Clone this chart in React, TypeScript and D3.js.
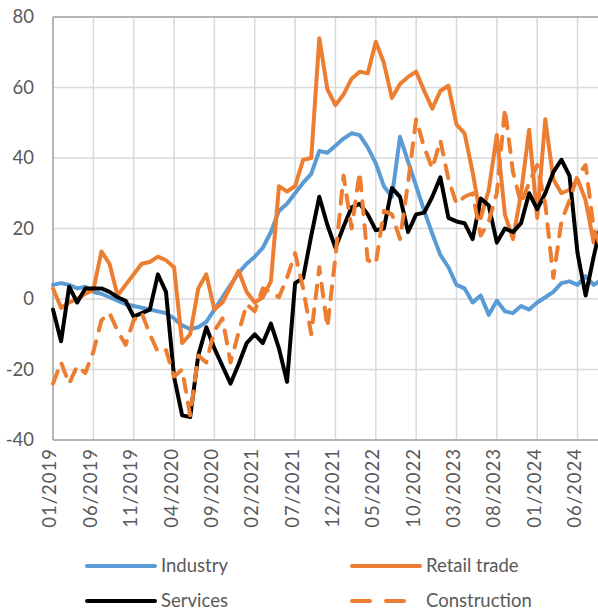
import React from 'react'
import * as d3 from 'd3'

// monthly categories 01/2019 .. 09/2024
const months = d3.timeMonths(new Date(2019, 0, 1), new Date(2024, 9, 1)).map(d3.timeFormat('%m/%Y'))

const tickLabels = ['01/2019', '06/2019', '11/2019', '04/2020', '09/2020', '02/2021', '07/2021',
  '12/2021', '05/2022', '10/2022', '03/2023', '08/2023', '01/2024', '06/2024']
const yTicks = [-40, -20, 0, 20, 40, 60, 80]

const industry = [4, 4.5, 4, 3, 3.5, 2, 1.5, 0.5, -0.5, -1.5, -2, -2.5, -3, -3.5, -4, -5.5, -7.5, -8.5, -8, -6.5,
  -3, 0.5, 4, 7.4, 10, 12, 14.5, 19, 25, 27, 30, 33, 35.5, 42, 41.5, 43.5, 45.5, 47, 46.5, 43,
  38.5, 32, 29, 46, 39, 32, 25, 18.5, 12.5, 9, 4, 3, -1, 1, -4.5, -0.5, -3.5, -4, -2, -3,
  -1, 0.5, 2, 4.5, 5, 4, 6.5, 4, 5.5]
const retail = [3, -2.5, -1, 0, 1.5, 2.5, 13.5, 10, 1, 4, 7, 10, 10.5, 12, 11, 9, -12.5, -10, 3, 7,
  -3, -1, 3.5, 8, 2, -1, 0.5, 5, 32, 30.5, 32, 39.5, 40, 74, 59.5, 55, 58, 62.5, 64.5, 64,
  73, 67, 57, 61, 63, 64.5, 59, 54, 59, 60.5, 49.5, 47, 36, 23, 31, 46.5, 24, 17, 30, 48,
  23, 51, 34, 30, 31, 34, 28, 16, 20]
const services = [-3, -12, 3.5, -1, 3, 3, 3, 2, 0.5, -0.5, -5, -4, -3, 7, 2, -22, -33, -33.5, -16, -8,
  -14, -19, -24, -18.5, -12.5, -10, -12.5, -7, -14, -23.5, 4.5, 6, 18, 29, 21, 14.5, 20.5, 26, 27, 24,
  19.5, 20, 31.5, 29, 19, 24, 24.5, 29, 34.5, 23, 22, 21.5, 17, 28.5, 26.5, 16, 20, 19, 21.5, 30,
  25.5, 30, 36, 39.5, 35, 13, 1, 12, 22]
const construction = [-24, -18, -24, -19, -21, -15, -6, -4, -9, -13, -6, -4, -10, -15, -14.5, -22, -20, -33, -16, -18,
  -9, -5.5, -18, -9.5, -1.5, -3.5, 3, 2, 0.5, 6, 13, 3, -10, 9, -8, 12, 35, 20, 36, 11,
  10, 25, 24, 17, 33, 51, 43, 37, 45, 34, 27, 29, 30, 18, 22, 30, 54, 36, 27, 33,
  38, 27, 6, 22, 28, 35, 38, 20, 14]

const series = [
  { name: 'Industry', values: industry, color: '#5b9bd5', dash: null },
  { name: 'Retail trade', values: retail, color: '#ed7d31', dash: null },
  { name: 'Services', values: services, color: '#000000', dash: null },
  { name: 'Construction', values: construction, color: '#ed7d31', dash: '13 11' },
]

const W = 598
const H = 613
const left = 53
const top = 17
const bottom = 440
const step = 8.07

const x = d3.scalePoint<string>().domain(months).range([left, left + step * (months.length - 1)])
const y = d3.scaleLinear().domain([-40, 80]).range([bottom, top])

const font = 'Lato, "Liberation Sans", sans-serif'
const textColor = '#595959'

export default function App() {
  const line = d3.line<number>()
    .x((_, i) => x(months[i]) as number)
    .y(d => y(d))

  const legendPos = [
    { x: 85, y: 566 },
    { x: 350, y: 566 },
    { x: 85, y: 601 },
    { x: 350, y: 601 },
  ]

  return (
    <svg width={W} height={H} style={{ position: 'absolute', left: 0, top: 0, background: '#fff' }}>
      {/* gridlines */}
      {yTicks.map(t => (
        <line key={'h' + t} x1={left} x2={W} y1={y(t)} y2={y(t)} stroke="#d9d9d9" strokeWidth={1.5} />
      ))}
      {tickLabels.map(m => (
        <line key={'v' + m} x1={x(m)} x2={x(m)} y1={top} y2={bottom} stroke="#d9d9d9" strokeWidth={1.5} />
      ))}
      {/* axes */}
      <line x1={left} x2={W} y1={top} y2={top} stroke="#a6a6a6" strokeWidth={1.5} />
      <line x1={left} x2={W} y1={bottom} y2={bottom} stroke="#a6a6a6" strokeWidth={1.5} />
      <line x1={left} x2={left} y1={top} y2={bottom} stroke="#a6a6a6" strokeWidth={1.5} />

      {yTicks.map(t => (
        <text key={'yl' + t} x={34} y={y(t)} dy="0.35em" textAnchor="end"
          fontFamily={font} fontSize={18.5} fill={textColor}>{t}</text>
      ))}
      {tickLabels.map(m => (
        <text key={'xl' + m} transform={`translate(${(x(m) as number) - 3},${bottom + 8}) rotate(-90)`}
          dy="0.35em" textAnchor="end" fontFamily={font} fontSize={18.5} fill={textColor}
          letterSpacing={1}>{m}</text>
      ))}

      {series.map(s => (
        <path key={s.name} d={line(s.values) || ''} fill="none" stroke={s.color} strokeWidth={4}
          strokeLinejoin="round" strokeLinecap="round" strokeDasharray={s.dash || undefined} />
      ))}

      {/* legend */}
      {series.map((s, i) => {
        const p = legendPos[i]
        return (
          <g key={'lg' + s.name}>
            <line x1={p.x + 2} x2={p.x + 70} y1={p.y} y2={p.y} stroke={s.color} strokeWidth={4}
              strokeLinecap="round" strokeDasharray={s.dash ? '18 16' : undefined} />
            <text x={p.x + 76} y={p.y} dy="0.35em" fontFamily={font} fontSize={18.5} fill={textColor}>
              {s.name}
            </text>
          </g>
        )
      })}
    </svg>
  )
}
